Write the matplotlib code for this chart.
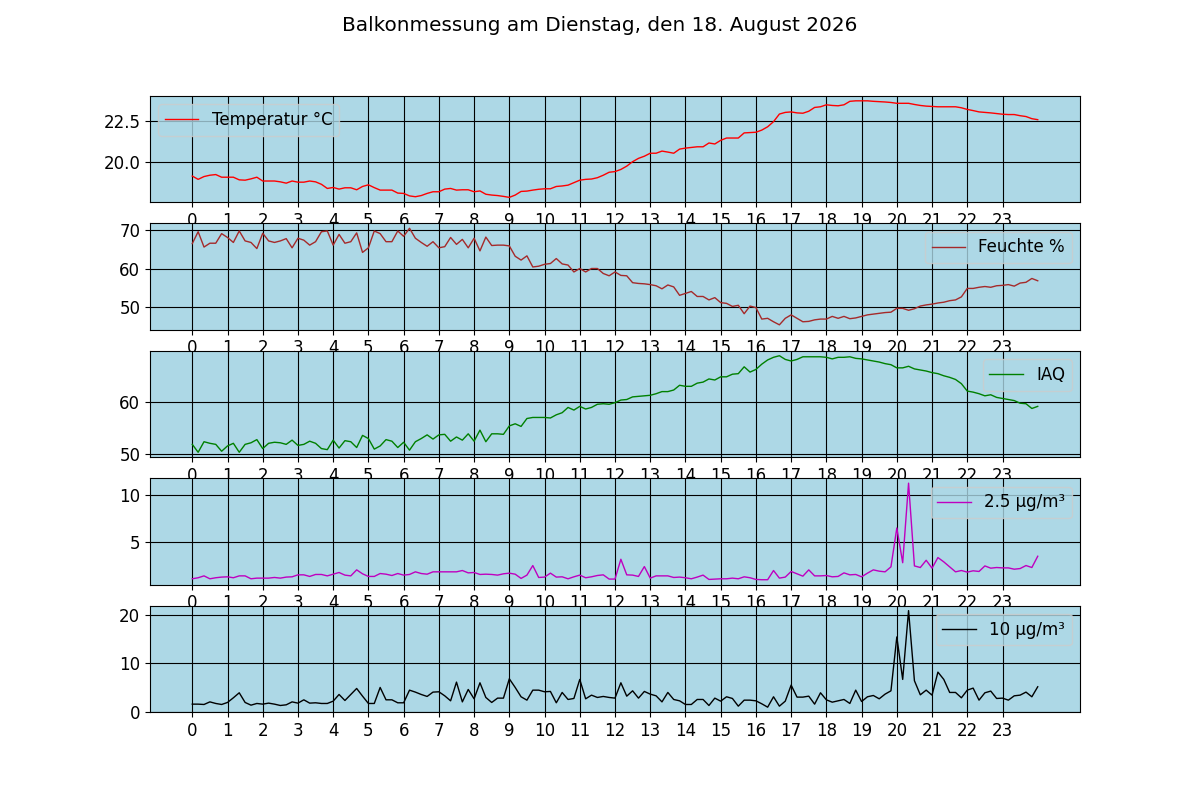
import matplotlib
matplotlib.use("Agg")
import matplotlib.pyplot as plt
import numpy as np

# Messwerte alle 10 Minuten, 00:00 bis 24:00
minutes = np.arange(0, 24 * 60 + 1, 10)
hours = minutes / 60

temperatur = [
    19.15, 18.95, 19.12, 19.2, 19.24, 19.08, 19.08, 19.08, 18.92, 18.9, 18.98, 19.08,
    18.85, 18.85, 18.85, 18.8, 18.72, 18.85, 18.78, 18.78, 18.85, 18.8, 18.65, 18.4,
    18.46, 18.36, 18.44, 18.44, 18.32, 18.52, 18.62, 18.45, 18.3, 18.3, 18.3, 18.12,
    18.1, 17.95, 17.9, 17.97, 18.1, 18.2, 18.2, 18.36, 18.4, 18.3, 18.32, 18.32,
    18.2, 18.25, 18.05, 18.0, 17.97, 17.92, 17.86, 18.0, 18.22, 18.24, 18.3, 18.35,
    18.38, 18.38, 18.52, 18.55, 18.6, 18.75, 18.9, 18.95, 18.97, 19.05, 19.2, 19.38,
    19.42, 19.55, 19.75, 20.02, 20.22, 20.35, 20.53, 20.53, 20.66, 20.6, 20.53, 20.78,
    20.84, 20.88, 20.92, 20.92, 21.15, 21.09, 21.31, 21.45, 21.45, 21.45, 21.76, 21.78,
    21.8, 21.93, 22.13, 22.44, 22.9, 23.0, 23.03, 22.97, 22.95, 23.07, 23.3, 23.34,
    23.46, 23.42, 23.4, 23.46, 23.67, 23.7, 23.7, 23.7, 23.67, 23.65, 23.63, 23.6,
    23.55, 23.55, 23.55, 23.48, 23.42, 23.38, 23.36, 23.34, 23.34, 23.34, 23.34, 23.28,
    23.18, 23.11, 23.03, 23.0, 22.97, 22.93, 22.89, 22.87, 22.87, 22.8, 22.75, 22.62,
    22.56,
]

feuchte = [
    66.5, 69.6, 65.6, 66.6, 66.6, 69.1, 68.1, 66.8, 69.8, 67.2, 66.8, 65.2,
    69.2, 67.2, 66.8, 67.2, 67.8, 65.4, 67.9, 67.4, 66.1, 67.0, 69.6, 69.8,
    66.1, 68.9, 66.6, 67.0, 69.3, 64.2, 65.4, 69.8, 69.1, 67.0, 67.0, 69.8,
    68.4, 70.5, 67.9, 66.8, 65.8, 67.0, 65.4, 65.7, 68.1, 66.3, 67.6, 65.4,
    67.9, 64.6, 68.2, 66.0, 66.1, 66.1, 65.9, 63.2, 62.2, 63.3, 60.4, 60.6,
    61.1, 61.3, 62.6, 61.2, 60.9, 59.1, 60.0, 59.1, 60.0, 60.0, 58.7, 58.1,
    59.1, 58.2, 58.1, 56.3, 56.1, 56.0, 55.8, 55.5, 54.7, 55.7, 55.2, 53.0,
    53.5, 54.0, 52.7, 52.7, 51.8, 52.4, 51.1, 50.9, 50.1, 50.4, 48.2, 50.2,
    49.8, 46.8, 47.0, 46.1, 45.3, 47.0, 47.9, 47.0, 46.1, 46.2, 46.6, 46.8,
    46.8, 47.5, 47.0, 47.5, 46.9, 47.1, 47.5, 47.9, 48.1, 48.3, 48.5, 48.6,
    49.6, 49.6, 49.1, 49.5, 50.2, 50.5, 50.7, 51.0, 51.2, 51.6, 51.8, 52.6,
    54.8, 54.8, 55.1, 55.3, 55.1, 55.5, 55.6, 55.8, 55.4, 56.2, 56.4, 57.4,
    56.8,
]

iaq = [
    51.9, 50.4, 52.4, 52.1, 51.9, 50.6, 51.6, 52.1, 50.4, 51.9, 52.2, 52.8,
    51.1, 52.1, 52.3, 52.2, 51.9, 52.7, 51.7, 51.9, 52.5, 52.1, 51.1, 50.9,
    52.7, 51.2, 52.6, 52.4, 51.3, 53.6, 53.0, 51.0, 51.6, 52.8, 52.5, 51.3,
    52.3, 50.8, 52.4, 53.0, 53.7, 52.9, 53.7, 53.8, 52.5, 53.3, 52.7, 53.9,
    52.5, 54.6, 52.4, 53.9, 53.9, 53.8, 55.4, 55.8, 55.3, 56.8, 57.0, 57.0,
    57.0, 56.9, 57.5, 57.9, 58.9, 58.4, 59.1, 58.6, 58.9, 59.5, 59.6, 59.5,
    59.8, 60.3, 60.4, 60.9, 61.0, 61.1, 61.2, 61.5, 61.9, 61.9, 62.2, 63.1,
    62.9, 62.9, 63.5, 63.7, 64.3, 64.1, 64.7, 64.7, 65.2, 65.3, 66.6, 65.6,
    66.1, 67.1, 67.9, 68.4, 68.7, 68.0, 67.7, 68.0, 68.5, 68.5, 68.5, 68.5,
    68.4, 68.1, 68.4, 68.4, 68.5, 68.2, 68.1, 67.9, 67.7, 67.5, 67.2, 67.0,
    66.4, 66.4, 66.7, 66.2, 66.0, 65.8, 65.5, 65.3, 64.9, 64.6, 64.2, 63.4,
    62.0, 61.8, 61.5, 61.1, 61.3, 60.8, 60.6, 60.4, 60.2, 59.7, 59.6, 58.7,
    59.1,
]

pm25 = [
    1.09, 1.2, 1.4, 1.09, 1.2, 1.27, 1.3, 1.2, 1.4, 1.4, 1.09, 1.16,
    1.16, 1.16, 1.23, 1.16, 1.27, 1.3, 1.51, 1.51, 1.34, 1.55, 1.55, 1.4,
    1.58, 1.76, 1.48, 1.4, 2.04, 1.62, 1.34, 1.34, 1.65, 1.58, 1.44, 1.65,
    1.48, 1.55, 1.83, 1.65, 1.58, 1.83, 1.83, 1.83, 1.83, 1.83, 1.97, 1.72,
    1.76, 1.55, 1.58, 1.55, 1.48, 1.62, 1.69, 1.58, 1.13, 1.48, 2.5, 1.23,
    1.27, 1.69, 1.27, 1.3, 1.09, 1.3, 1.48, 1.2, 1.3, 1.44, 1.51, 1.06,
    1.06, 3.17, 1.51, 1.48, 1.34, 2.39, 1.16, 1.4, 1.4, 1.4, 1.23, 1.27,
    1.2, 1.09, 1.27, 1.48, 1.02, 1.06, 1.09, 1.09, 1.16, 1.09, 1.3, 1.2,
    1.02, 0.99, 0.99, 1.97, 1.16, 1.27, 1.87, 1.62, 1.37, 2.04, 1.4, 1.4,
    1.44, 1.3, 1.34, 1.72, 1.51, 1.55, 1.3, 1.69, 2.04, 1.9, 1.83, 2.36,
    6.5, 2.8, 11.27, 2.46, 2.29, 3.06, 2.22, 3.35, 2.89, 2.36, 1.83, 1.97,
    1.8, 1.94, 1.87, 2.46, 2.22, 2.29, 2.25, 2.25, 2.11, 2.18, 2.5, 2.29,
    3.49,
]

pm10 = [
    1.53, 1.53, 1.46, 2.0, 1.67, 1.46, 1.88, 2.85, 3.89, 1.88, 1.32, 1.67,
    1.53, 1.74, 1.53, 1.25, 1.39, 2.0, 1.74, 2.43, 1.74, 1.81, 1.67, 1.67,
    2.15, 3.54, 2.29, 3.54, 4.79, 3.19, 1.67, 1.67, 5.0, 2.43, 2.43, 1.81,
    1.81, 4.44, 4.03, 3.54, 3.13, 4.03, 4.1, 3.26, 2.22, 6.11, 2.0, 4.58,
    2.64, 5.97, 2.92, 1.88, 2.78, 2.78, 6.8, 5.0, 3.06, 2.36, 4.44, 4.44,
    4.1, 4.17, 1.81, 3.96, 2.5, 2.71, 6.67, 2.64, 3.4, 2.92, 3.13, 2.92,
    2.78, 5.97, 3.19, 4.3, 2.78, 4.17, 3.61, 3.26, 2.0, 3.96, 2.5, 2.22,
    1.46, 1.46, 2.5, 2.5, 1.25, 2.78, 2.15, 3.06, 2.71, 1.11, 2.36, 2.36,
    2.22, 1.6, 0.9, 3.06, 1.11, 2.15, 5.49, 2.99, 2.99, 3.19, 1.53, 3.89,
    2.43, 1.94, 2.22, 2.5, 1.67, 4.44, 2.08, 3.06, 3.33, 2.64, 3.61, 4.3,
    15.5, 6.67, 20.97, 6.39, 3.47, 4.44, 3.4, 8.19, 6.67, 3.96, 3.96, 2.85,
    4.44, 4.86, 2.36, 3.89, 4.24, 2.71, 2.78, 2.36, 3.26, 3.4, 4.03, 3.06,
    5.14,
]

series = [
    (temperatur, "red", "Temperatur °C", "upper left"),
    (feuchte, "brown", "Feuchte %", "upper right"),
    (iaq, "green", "IAQ", "upper right"),
    (pm25, "m", "2.5 µg/m³", "upper right"),
    (pm10, "black", "10 µg/m³", "upper right"),
]

fig, axes = plt.subplots(5, 1, figsize=(12, 8))
fig.suptitle("Balkonmessung am Dienstag, den 18. August 2026", fontsize=14.4)

for ax, (values, color, label, loc) in zip(axes, series):
    ax.set_facecolor("lightblue")
    ax.plot(hours, values, color=color, linewidth=1, label=label)
    ax.set_xticks(range(24))
    ax.grid(True, color="black")
    ax.tick_params(labelsize=12)
    ax.legend(loc=loc, fontsize=12, facecolor="lightblue")

plt.savefig("out.png", dpi=100)
